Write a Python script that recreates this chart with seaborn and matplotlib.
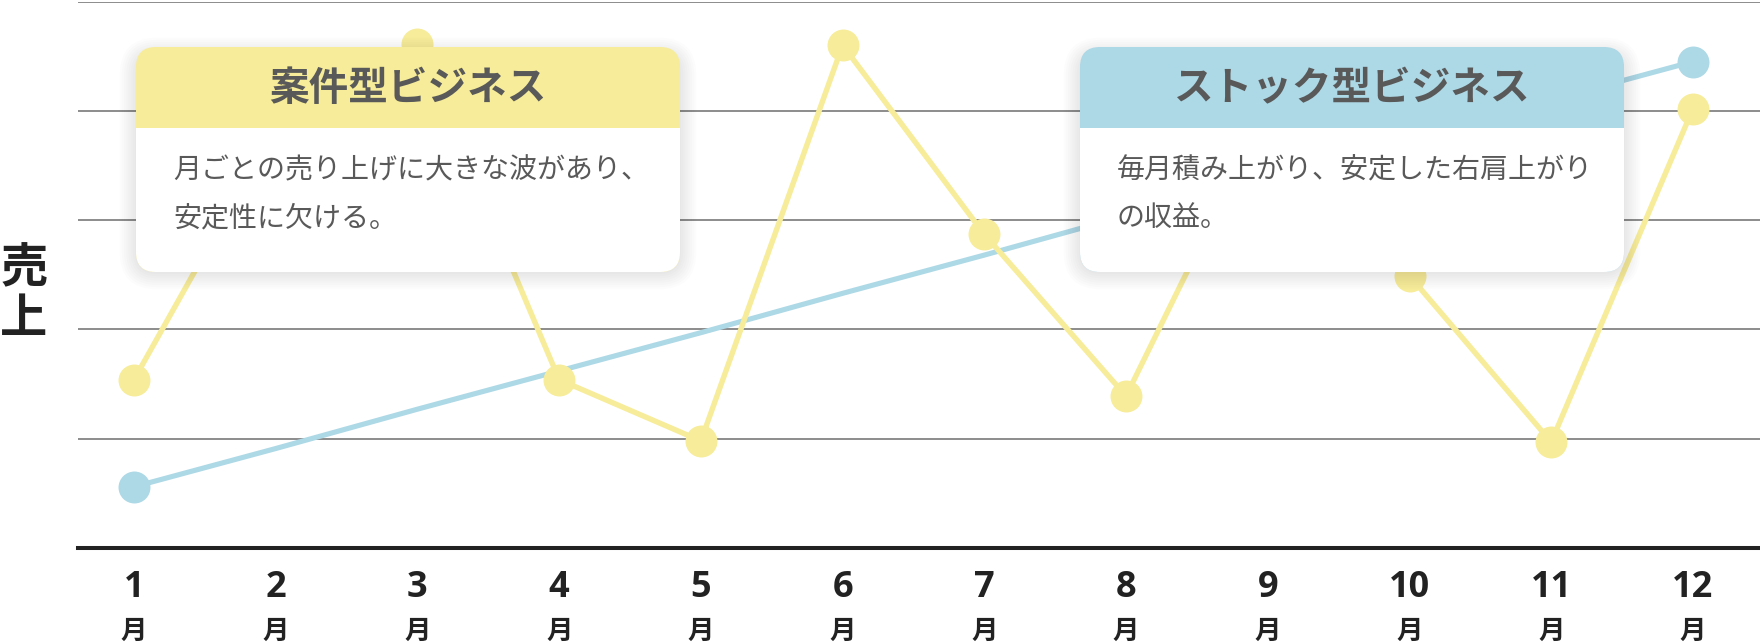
import matplotlib
matplotlib.use("Agg")
import matplotlib.pyplot as plt
import pandas as pd
import seaborn as sns
from matplotlib.patches import FancyBboxPatch, Rectangle

# --- data ---
months = [1, 2, 3, 4, 5, 6, 7, 8, 9, 10, 11, 12]
month_labels = ["1", "2", "3", "4", "5", "6", "7", "8", "9", "10", "11", "12"]
project_sales = [1.54, 3.85, 4.61, 1.54, 0.98, 4.60, 2.87, 1.39, 4.03, 2.49, 0.97, 4.02]
stock_sales = [0.56, 0.91, 1.27, 1.62, 1.97, 2.33, 2.68, 3.04, 3.39, 3.74, 4.10, 4.45]

series_names = ["ストック型ビジネス", "案件型ビジネス"]
series_colors = ["#ADD8E6", "#F7EC99"]
box_titles = ["案件型ビジネス", "ストック型ビジネス"]
box_texts = [
    ["月ごとの売り上げに大きな波があり、", "安定性に欠ける。"],
    ["毎月積み上がり、安定した右肩上がり", "の収益。"],
]
box_colors = ["#F7EC99", "#ADD8E6"]

stock_df = pd.DataFrame({"month": months, "sales": stock_sales})
project_df = pd.DataFrame({"month": months, "sales": project_sales})

# --- figure ---
sns.set_style("white")
plt.rcParams["font.family"] = ["Noto Sans CJK JP", "DejaVu Sans"]

W, H = 1760, 642
fig = plt.figure(figsize=(W / 100, H / 100), dpi=100)
ax = fig.add_axes([78 / W, 1 - 548 / H, 1 - 78 / W, (548 - 1.5) / H])

# stock line: markers only at the first and last month
sns.lineplot(data=stock_df, x="month", y="sales", color=series_colors[0],
             marker="o", markersize=23, markeredgewidth=0, markevery=[0, len(months) - 1],
             linewidth=3.7, ax=ax)
sns.lineplot(data=project_df, x="month", y="sales", color=series_colors[1],
             marker="o", markersize=23, markeredgewidth=0,
             linewidth=3.9, ax=ax)

ax.set_xlim(0.605, 12.473)
ax.set_ylim(0, 5)
ax.set_yticks([1, 2, 3, 4, 5])
ax.set_yticklabels([])
ax.yaxis.grid(True, color="#8c8c8c", linewidth=1.4)
ax.set_axisbelow(True)
ax.tick_params(axis="both", length=0)
ax.set_xlabel("")
ax.set_ylabel("")
for side in ["top", "left", "right"]:
    ax.spines[side].set_visible(False)
ax.spines["bottom"].set_color("#222222")
ax.spines["bottom"].set_linewidth(2.9)

ax.set_xticks(months)
ax.set_xticklabels(month_labels, fontsize=26, fontweight="bold", color="#222222",
                   family=["Open Sans", "Noto Sans CJK JP"])
ax.tick_params(axis="x", pad=16)
trans = ax.get_xaxis_transform()
for m in months:
    ax.text(m, -0.152, "月", transform=trans, ha="center", va="center",
            fontsize=19, fontweight="bold", color="#222222")

# --- overlay in pixel coordinates for the callout boxes ---
ov = fig.add_axes([0, 0, 1, 1], zorder=5)
ov.set_xlim(0, W)
ov.set_ylim(H, 0)
ov.axis("off")

ov.text(24, 268, "売", ha="center", va="center", fontsize=34, fontweight="bold", color="#222222")
ov.text(24, 319, "上", ha="center", va="center", fontsize=34, fontweight="bold", color="#222222")

box_x = [136, 1080]
box_w, top, head_bot, bot, r = 544, 47, 128, 272, 20
for bx, title, lines, col in zip(box_x, box_titles, box_texts, box_colors):
    # soft shadow
    for i in range(8):
        sp = 2 + i * 2.2
        ov.add_patch(FancyBboxPatch((bx - sp + 1, top + 8 - sp), box_w + 2 * sp - 2, bot - top + 2 * sp - 8,
                                    boxstyle=f"round,pad=0,rounding_size={r + sp}",
                                    fc="black", ec="none", alpha=0.012))
    ov.add_patch(FancyBboxPatch((bx, top), box_w, bot - top,
                                boxstyle=f"round,pad=0,rounding_size={r}", fc=col, ec="none"))
    ov.add_patch(FancyBboxPatch((bx, head_bot), box_w, bot - head_bot,
                                boxstyle=f"round,pad=0,rounding_size={r}", fc="white", ec="none"))
    ov.add_patch(Rectangle((bx, head_bot), box_w, bot - head_bot - r - 2, fc="white", ec="none"))
    ov.text(bx + box_w / 2, 89, title, ha="center", va="center", fontsize=28.5,
            fontweight="bold", color="#595959")
    for k, line in enumerate(lines):
        ov.text(bx + 37, 170 + k * 48, line, ha="left", va="center", fontsize=20.2, color="#595959")

plt.savefig("out.png", dpi=100)
